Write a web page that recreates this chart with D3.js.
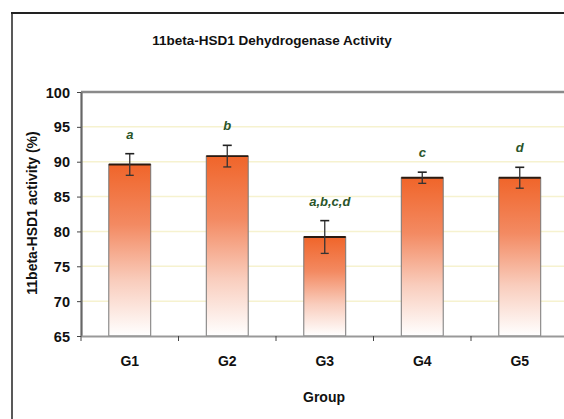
<!DOCTYPE html>
<html><head><meta charset="utf-8">
<script src="https://cdn.jsdelivr.net/npm/d3@7"></script>
<style>
html,body{margin:0;padding:0;background:#fff;overflow:hidden;width:564px;height:419px;}
svg{display:block;}
text{font-family:"Liberation Sans",Arial,sans-serif;font-weight:bold;}
</style></head>
<body><svg id="c" width="564" height="419"></svg>
<script>
const groups = ["G1","G2","G3","G4","G5"];
const values = [89.6, 90.8, 79.2, 87.7, 87.7];
const errors = [1.55, 1.55, 2.35, 0.8, 1.5];
const sigLabels = ["a","b","a,b,c,d","c","d"];
const yTicks = [65,70,75,80,85,90,95,100];

const svg = d3.select("#c");
const W = 564, H = 419;
const pLeft = 81, pRight = 568.5, pTop = 92, pBottom = 336;

// outer border (left and top only visible)
svg.append("line").attr("x1",12).attr("x2",12).attr("y1",12).attr("y2",H)
  .attr("stroke","#222").attr("stroke-width",1.5);
svg.append("line").attr("x1",11).attr("x2",W+2).attr("y1",13).attr("y2",13)
  .attr("stroke","#222").attr("stroke-width",2.2);

const x = d3.scaleBand().domain(groups).range([pLeft,pRight]).paddingInner(0.57).paddingOuter(0.285);
const y = d3.scaleLinear().domain([65,100]).range([pBottom,pTop]);

// gradient
const defs = svg.append("defs");
const g = defs.append("linearGradient").attr("id","bg").attr("x1",0).attr("y1",0).attr("x2",0).attr("y2",1);
g.append("stop").attr("offset","0%").attr("stop-color","#f0652a");
g.append("stop").attr("offset","35%").attr("stop-color","#f38a62");
g.append("stop").attr("offset","68%").attr("stop-color","#f9cdbd");
g.append("stop").attr("offset","100%").attr("stop-color","#ffffff");

// gridlines
svg.append("g").selectAll("line").data(yTicks.filter(d=>d>65 && d<100)).join("line")
  .attr("x1",pLeft).attr("x2",W+2).attr("y1",d=>y(d)).attr("y2",d=>y(d))
  .attr("stroke","#f6f2cf").attr("stroke-width",1.5);

// plot top border
svg.append("line").attr("x1",pLeft).attr("x2",W+2).attr("y1",pTop).attr("y2",pTop)
  .attr("stroke","#8a8a8a").attr("stroke-width",2.5);

// bars
const bars = svg.append("g");
bars.selectAll("rect").data(groups).join("rect")
  .attr("x",d=>x(d)).attr("width",x.bandwidth())
  .attr("y",(d,i)=>y(values[i])).attr("height",(d,i)=>pBottom-y(values[i]))
  .attr("fill","url(#bg)").attr("stroke","#777").attr("stroke-width",1);
bars.selectAll("line.topl").data(groups).join("line").attr("class","topl")
  .attr("x1",d=>x(d)).attr("x2",d=>x(d)+x.bandwidth())
  .attr("y1",(d,i)=>y(values[i])).attr("y2",(d,i)=>y(values[i]))
  .attr("stroke","#2a1a10").attr("stroke-width",1.8);

// error bars
const eb = svg.append("g").attr("stroke","#333");
groups.forEach((gname,i)=>{
  const cx = x(gname)+x.bandwidth()/2;
  const y1 = y(values[i]+errors[i]), y2 = y(values[i]-errors[i]);
  eb.append("line").attr("x1",cx).attr("x2",cx).attr("y1",y1).attr("y2",y2).attr("stroke-width",1.3);
  eb.append("line").attr("x1",cx-4.5).attr("x2",cx+4.5).attr("y1",y1).attr("y2",y1).attr("stroke-width",1.6).attr("stroke","#222");
  eb.append("line").attr("x1",cx-4).attr("x2",cx+4).attr("y1",y2).attr("y2",y2).attr("stroke-width",1.3);
});

// significance labels
svg.append("g").selectAll("text").data(groups).join("text")
  .attr("x",(d,i)=>x(d)+x.bandwidth()/2+ (i===2?5:0))
  .attr("y",(d,i)=>y(values[i]+errors[i])-15)
  .attr("text-anchor","middle").attr("fill","#2a552a")
  .style("font-style","italic").style("font-size","13px")
  .text((d,i)=>sigLabels[i]);

// y axis
const ya = svg.append("g").attr("transform",`translate(${pLeft},0)`)
  .call(d3.axisLeft(y).tickValues(yTicks).tickSize(4).tickSizeOuter(0).tickPadding(7));
ya.select(".domain").attr("stroke","#666").attr("stroke-width",2.2);
ya.selectAll(".tick line").attr("stroke","#444");
ya.selectAll("text").style("font-size","14.5px").attr("fill","#111").attr("dy","0.35em");

// x axis
const xa = svg.append("g").attr("transform",`translate(0,${pBottom})`)
  .call(d3.axisBottom(x).tickSize(0).tickSizeOuter(0).tickPadding(20));
xa.select(".domain").attr("stroke","#999").attr("stroke-width",2.2);
xa.selectAll("text").style("font-size","14px").attr("fill","#111");
// category separator ticks
const step = x.step();
svg.append("g").selectAll("line").data(d3.range(groups.length)).join("line")
  .attr("x1",i=>pLeft+step*i).attr("x2",i=>pLeft+step*i)
  .attr("y1",pBottom).attr("y2",pBottom+5).attr("stroke","#444").attr("stroke-width",1);

// titles
svg.append("text").attr("x",272).attr("y",45).attr("text-anchor","middle")
  .style("font-size","13.5px").attr("fill","#111").text("11beta-HSD1  Dehydrogenase Activity");
svg.append("text").attr("x",324).attr("y",402).attr("text-anchor","middle")
  .style("font-size","14px").attr("fill","#111").text("Group");
svg.append("text").attr("transform","translate(37,213) rotate(-90)").attr("text-anchor","middle")
  .style("font-size","14px").attr("fill","#111").text("11beta-HSD1 activity (%)");
</script></body></html>
